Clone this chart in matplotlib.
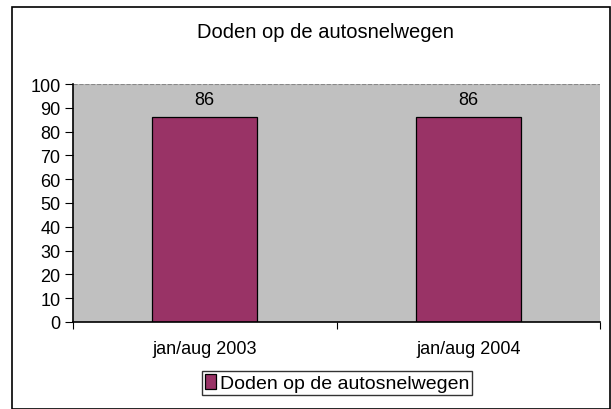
import matplotlib.pyplot as plt
from matplotlib.patches import Rectangle
import numpy as np

categories = ["jan/aug 2003", "jan/aug 2004"]
values = [86, 86]
series_name = "Doden op de autosnelwegen"

plt.rcParams['font.family'] = ['Liberation Sans', 'DejaVu Sans']

fig = plt.figure(figsize=(6.11, 4.10), dpi=100)
fig.patch.set_facecolor('white')

# outer chart border
fig.add_artist(Rectangle((12 / 611, 0.0), 598 / 611, 1 - 8 / 410,
                         transform=fig.transFigure, fill=False,
                         edgecolor='black', linewidth=1.2))

ax = fig.add_axes([73 / 611, 87 / 410, 527 / 611, 238 / 410])
ax.set_facecolor('#C0C0C0')

x = np.arange(len(categories))
bars = ax.bar(x, values, width=0.4, color='#993366', edgecolor='black',
              linewidth=0.9, label=series_name)
for xi, v in zip(x, values):
    ax.text(xi, v + 4, str(v), ha='center', va='bottom', fontsize=13)

ax.set_xlim(-0.5, len(categories) - 0.5)
ax.set_ylim(0, 100)
ax.set_yticks(range(0, 101, 10))
ax.tick_params(axis='y', labelsize=13, length=6, direction='out', pad=3)
ax.set_xticks(np.arange(-0.5, len(categories), 1.0))
ax.set_xticklabels([])
ax.set_xticks(x, minor=True)
ax.set_xticklabels(categories, minor=True, fontsize=13)
ax.tick_params(axis='x', which='minor', length=0, pad=13)
ax.tick_params(axis='x', which='major', length=5, direction='out')
ax.axhline(100, color='#888888', linestyle='--', linewidth=0.8)

for s in ['top', 'right']:
    ax.spines[s].set_visible(False)
ax.spines['left'].set_linewidth(1.2)
ax.spines['bottom'].set_linewidth(1.2)

fig.text(325 / 611, 1 - 32 / 410, "Doden op de autosnelwegen",
         ha='center', va='center', fontsize=14.5)

leg = fig.legend(loc='center', bbox_to_anchor=(337 / 611, 1 - 384 / 410),
                 fontsize=14, frameon=True, fancybox=False, edgecolor='black',
                 handlelength=0.6, handleheight=0.8, handletextpad=0.2,
                 borderpad=0.15, borderaxespad=0)
leg.get_frame().set_linewidth(1.0)

plt.savefig('out.png', dpi=100)
